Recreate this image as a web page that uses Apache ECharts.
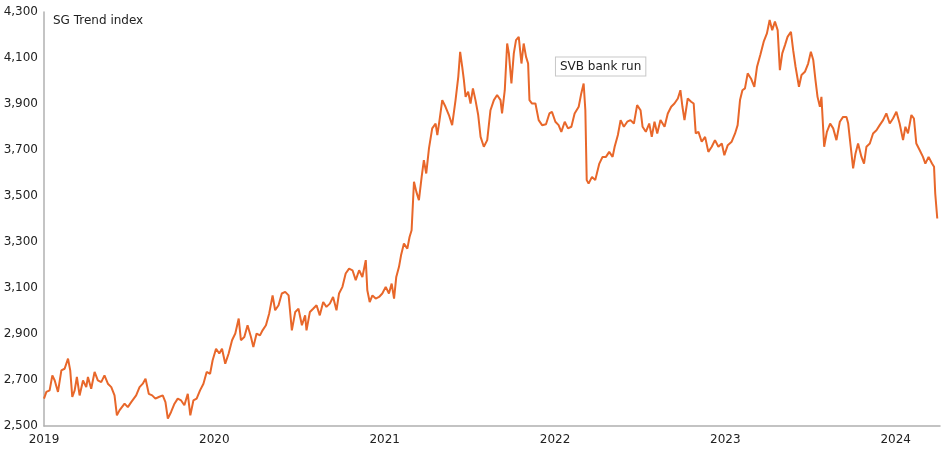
<!DOCTYPE html>
<html><head><meta charset="utf-8">
<script src="https://cdn.jsdelivr.net/npm/echarts@6/dist/echarts.min.js"></script>
<style>html,body{margin:0;padding:0;background:#fff}#c{width:951px;height:455px}</style>
</head><body><div id="c"></div>
<script>
const title = 'SG Trend index';
const annotation = 'SVB bank run';
const annotationPoint = [2022.168, 3989];
const yearTicks = [2019, 2020, 2021, 2022, 2023, 2024];
const dates = [
2019.000,2019.014,2019.033,2019.049,2019.063,2019.082,2019.102,2019.121,2019.141,2019.154,2019.166,2019.180,2019.193,2019.209,2019.229,2019.248,2019.258,2019.277,2019.297,2019.316,2019.336,2019.355,2019.375,2019.395,2019.414,2019.428,2019.443,2019.473,2019.492,2019.512,2019.541,2019.561,2019.580,2019.596,2019.615,2019.635,2019.654,2019.674,2019.697,2019.713,2019.727,2019.746,2019.766,2019.785,2019.805,2019.824,2019.844,2019.859,2019.877,2019.896,2019.916,2019.936,2019.955,2019.975,2019.990,
2020.010,2020.029,2020.045,2020.064,2020.084,2020.104,2020.123,2020.143,2020.156,2020.176,2020.195,2020.215,2020.229,2020.248,2020.268,2020.283,2020.303,2020.322,2020.342,2020.357,2020.377,2020.396,2020.416,2020.436,2020.455,2020.475,2020.494,2020.514,2020.533,2020.541,2020.561,2020.580,2020.600,2020.619,2020.639,2020.658,2020.678,2020.697,2020.717,2020.732,2020.752,2020.771,2020.791,2020.811,2020.830,2020.850,2020.869,2020.889,2020.898,2020.912,2020.928,2020.947,2020.967,2020.986,
2021.006,2021.025,2021.041,2021.055,2021.068,2021.084,2021.096,2021.113,2021.133,2021.146,2021.158,2021.172,2021.186,2021.201,2021.217,2021.230,2021.244,2021.260,2021.279,2021.299,2021.309,2021.322,2021.338,2021.357,2021.377,2021.396,2021.416,2021.432,2021.443,2021.455,2021.465,2021.475,2021.490,2021.504,2021.518,2021.533,2021.549,2021.563,2021.582,2021.602,2021.621,2021.641,2021.660,2021.680,2021.689,2021.705,2021.719,2021.729,2021.744,2021.758,2021.771,2021.787,2021.803,2021.816,2021.830,2021.842,2021.850,2021.865,2021.885,2021.904,2021.924,2021.947,2021.967,2021.982,
2022.002,2022.021,2022.037,2022.057,2022.076,2022.096,2022.115,2022.139,2022.154,2022.168,2022.178,2022.186,2022.197,2022.217,2022.236,2022.260,2022.279,2022.299,2022.318,2022.338,2022.350,2022.369,2022.385,2022.404,2022.424,2022.443,2022.463,2022.482,2022.502,2022.514,2022.533,2022.553,2022.568,2022.584,2022.600,2022.619,2022.643,2022.662,2022.682,2022.701,2022.721,2022.736,2022.748,2022.760,2022.779,2022.799,2022.814,2022.826,2022.842,2022.861,2022.881,2022.900,2022.920,2022.939,2022.959,2022.979,2022.994,
2023.014,2023.037,2023.057,2023.072,2023.086,2023.100,2023.115,2023.131,2023.150,2023.170,2023.186,2023.205,2023.225,2023.244,2023.260,2023.275,2023.291,2023.307,2023.320,2023.334,2023.350,2023.365,2023.385,2023.398,2023.412,2023.432,2023.447,2023.467,2023.486,2023.502,2023.516,2023.529,2023.541,2023.555,2023.564,2023.580,2023.596,2023.615,2023.633,2023.652,2023.672,2023.691,2023.711,2023.721,2023.736,2023.750,2023.764,2023.779,2023.799,2023.814,2023.828,2023.848,2023.867,2023.887,2023.906,2023.926,2023.945,2023.965,2023.984,
2024.004,2024.023,2024.043,2024.057,2024.072,2024.092,2024.107,2024.121,2024.141,2024.160,2024.174,2024.193,2024.213,2024.225,2024.232,2024.244
];
const values = [
2619,2648,2655,2720,2698,2648,2742,2749,2793,2742,2626,2655,2713,2633,2698,2669,2713,2662,2735,2698,2691,2720,2684,2669,2633,2546,2568,2597,2582,2604,2633,2669,2684,2706,2640,2633,2619,2626,2633,2604,2532,2561,2597,2619,2611,2590,2640,2546,2611,2619,2655,2684,2735,2727,2786,
2836,2815,2836,2771,2815,2873,2902,2967,2873,2887,2938,2887,2843,2902,2894,2916,2938,2989,3068,3003,3025,3076,3083,3068,2916,2996,3010,2938,2981,2916,2996,3010,3025,2981,3039,3018,3032,3061,3003,3076,3105,3163,3184,3177,3134,3177,3148,3221,3090,3039,3068,3054,3061,3076,
3105,3076,3119,3054,3148,3192,3242,3293,3271,3322,3351,3562,3518,3482,3583,3656,3598,3707,3794,3815,3765,3830,3917,3888,3852,3808,3917,4018,4127,4062,4004,3931,3953,3902,3968,3917,3852,3757,3714,3743,3873,3917,3939,3917,3859,3960,4163,4120,3989,4120,4178,4192,4076,4163,4105,4076,3917,3902,3902,3830,3808,3812,3859,3866,
3823,3808,3779,3823,3794,3801,3859,3888,3946,3989,3873,3569,3554,3583,3569,3641,3670,3670,3692,3670,3714,3765,3830,3801,3823,3830,3815,3895,3873,3801,3779,3815,3757,3823,3772,3830,3801,3859,3888,3902,3924,3960,3888,3830,3924,3910,3902,3772,3779,3736,3757,3692,3714,3743,3714,3728,3677,
3721,3736,3772,3808,3917,3960,3968,4033,4011,3975,4062,4113,4171,4207,4265,4221,4258,4221,4047,4120,4156,4192,4214,4134,4062,3975,4026,4040,4076,4127,4091,4004,3931,3888,3931,3714,3779,3815,3794,3743,3823,3844,3844,3815,3714,3620,3685,3728,3670,3641,3714,3728,3772,3786,3808,3830,3859,3815,3837,
3866,3815,3743,3801,3772,3852,3837,3728,3699,3670,3641,3670,3641,3627,3511,3402
];
const data = dates.map((d, i) => [d, values[i]]);
const font = 'DejaVu Sans';
const chart = echarts.init(document.getElementById('c'));
chart.setOption({
  animation: false,
  grid: {left: 44, right: 11, top: 12, bottom: 29},
  title: {text: title, left: 48, top: 10, textStyle: {fontFamily: font, fontSize: 12, fontWeight: 'normal', color: '#222'}},
  xAxis: {type: 'value', min: 2019, max: 2024.26, interval: 1,
    splitLine: {show: false}, axisTick: {show: false},
    axisLine: {lineStyle: {color: '#b0b0b0', width: 1.5}},
    axisLabel: {showMaxLabel: false, fontFamily: font, fontSize: 12, color: '#222', margin: 8,
      formatter: v => yearTicks.includes(Math.round(v)) ? String(Math.round(v)) : ''}},
  yAxis: {type: 'value', min: 2500, max: 4300, interval: 200,
    splitLine: {show: false}, axisTick: {show: false},
    axisLine: {show: true, lineStyle: {color: '#b0b0b0', width: 1.5}},
    axisLabel: {fontFamily: font, fontSize: 12, color: '#222', margin: 6}},
  series: [{type: 'line', data: data, showSymbol: false, symbol: 'none',
    lineStyle: {color: '#E8672A', width: 2},
    markPoint: {symbol: 'circle', symbolSize: 0,
      data: [{coord: annotationPoint, value: annotation}],
      label: {show: true, position: 'top', offset: [17, -3], formatter: annotation,
        fontFamily: font, fontSize: 12, color: '#222', backgroundColor: '#fff',
        borderColor: '#c8c8c8', borderWidth: 1, padding: [3, 4]}}}]
});
</script></body></html>
